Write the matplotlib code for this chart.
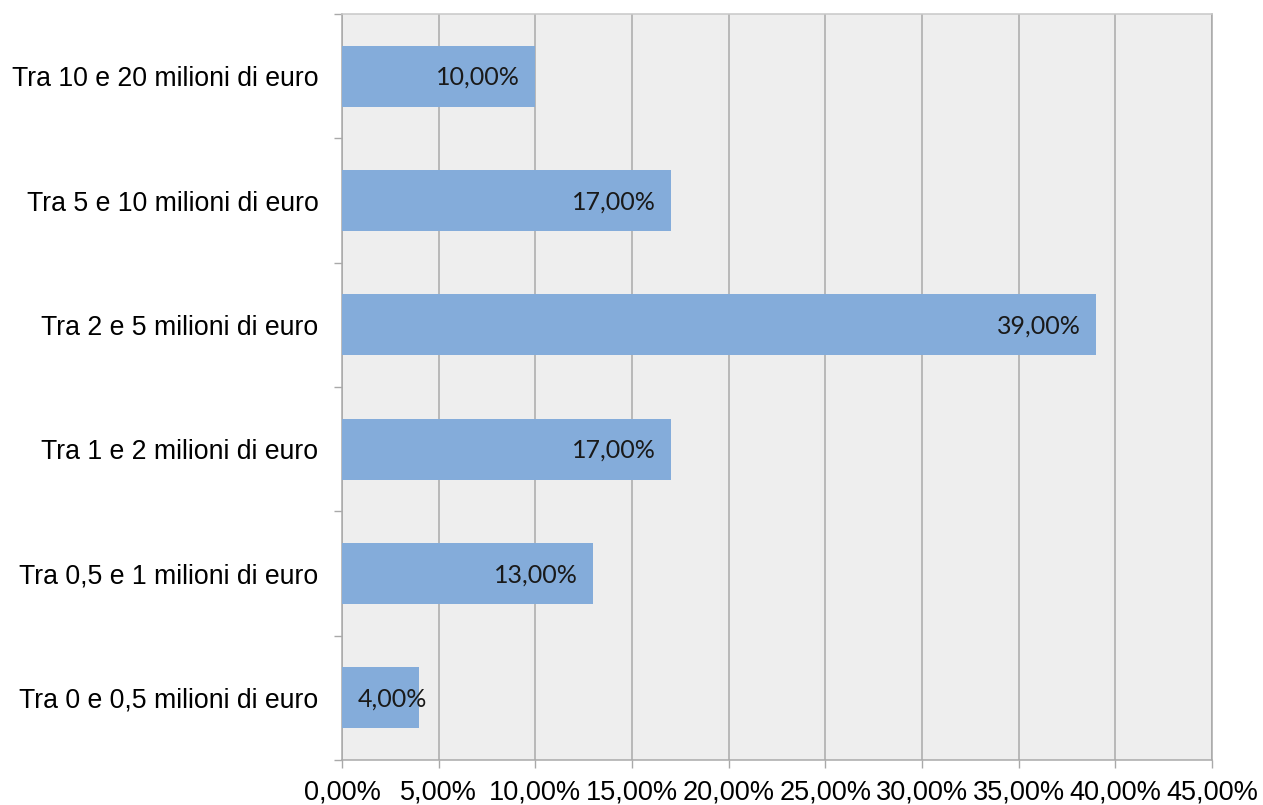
import numpy as np
import matplotlib.pyplot as plt
from matplotlib.ticker import FixedLocator

categorie = ["Tra 0 e 0,5 milioni di euro",
             "Tra 0,5 e 1 milioni di euro",
             "Tra 1 e 2 milioni di euro",
             "Tra 2 e 5 milioni di euro",
             "Tra 5 e 10 milioni di euro",
             "Tra 10 e 20 milioni di euro"]
percentuali = [4.0, 13.0, 17.0, 39.0, 17.0, 10.0]
xticks = [0, 5, 10, 15, 20, 25, 30, 35, 40, 45]

bar_color = "#84acda"
line_color = "#a9a9a9"

fig = plt.figure(figsize=(12.63, 8.05), dpi=100)
ax = fig.add_axes([342 / 1263, 1 - 760 / 805, 870 / 1263, 746 / 805])
ax.set_facecolor("#eeeeee")

y = np.arange(len(categorie))
ax.barh(y, percentuali, height=0.49, color=bar_color, zorder=3)

# data labels at the inner end of each bar
for yi, v in zip(y, percentuali):
    txt = f"{v:.2f}".replace(".", ",") + "%"
    if v < 6:
        ax.annotate(txt, (0, yi), xytext=(11, -1), textcoords="offset points",
                    ha="left", va="center", fontsize=18, family="Lato",
                    color="#1a1a1a", zorder=4)
    else:
        ax.annotate(txt, (v, yi), xytext=(-11, -1), textcoords="offset points",
                    ha="right", va="center", fontsize=18, family="Lato",
                    color="#1a1a1a", zorder=4)

ax.set_xlim(0, 45)
ax.set_ylim(-0.5, len(categorie) - 0.5)
ax.set_xticks(xticks)
ax.set_xticklabels([f"{t:.2f}".replace(".", ",") + "%" for t in xticks],
                   fontsize=19.5, family="Liberation Sans")
ax.set_yticks(y)
ax.set_yticklabels(categorie, fontsize=19.2, family="Liberation Sans")
ax.yaxis.set_minor_locator(FixedLocator(np.arange(-0.5, len(categorie), 1.0)))

ax.grid(axis="x", color=line_color, linewidth=1.1, zorder=1)
ax.tick_params(axis="y", which="major", length=0, pad=17)
ax.tick_params(axis="y", which="minor", length=6, color=line_color, width=1)
ax.tick_params(axis="x", which="major", length=6, color=line_color, width=1, pad=8)

for side in ["left", "bottom", "top", "right"]:
    ax.spines[side].set_color(line_color)
    ax.spines[side].set_linewidth(1.1)
ax.spines["top"].set_color("#c8c8c8")

fig.savefig("out.png", dpi=100, facecolor="white")
